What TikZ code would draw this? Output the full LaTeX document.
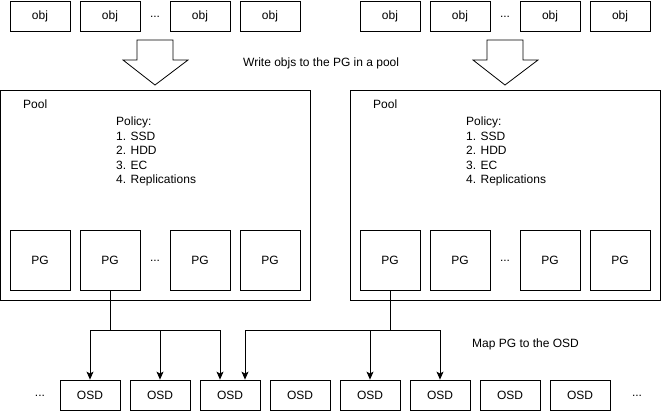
\documentclass[tikz,border=0pt]{standalone}
\usepackage{fontspec}
\setmainfont{Liberation Sans}
\usetikzlibrary{arrows.meta}
\begin{document}
\begin{tikzpicture}[x=1pt,y=-1pt,
  every node/.style={font=\fontsize{12}{14.5}\selectfont, inner sep=0pt},
  objbox/.style={draw, line width=0.8pt, minimum width=60pt, minimum height=30pt},
  pgbox/.style={draw, line width=0.8pt, minimum width=60pt, minimum height=60pt},
  poolbox/.style={draw, line width=0.8pt, minimum width=310pt, minimum height=210pt},
  osdbox/.style={draw, line width=0.8pt, minimum width=60pt, minimum height=30pt},
  wire/.style={line width=0.8pt},
  arr/.style={line width=0.8pt, -{Stealth[length=8pt,width=7pt,inset=2pt]}},
  bigarrow/.style={draw, line width=0.8pt, fill=white}
]
\useasboundingbox (0,0) rectangle (661,412);

% object rows
\node[objbox] (oL1) at (40,16) {obj};
\node[objbox] (oL2) at (110,16) {obj};
\node (oLd) at (155,17) {...};
\node[objbox] (oL3) at (200,16) {obj};
\node[objbox] (oL4) at (270,16) {obj};
\node[objbox] (oR1) at (390,16) {obj};
\node[objbox] (oR2) at (460,16) {obj};
\node (oRd) at (505,17) {...};
\node[objbox] (oR3) at (550,16) {obj};
\node[objbox] (oR4) at (620,16) {obj};

% block arrows
\draw[bigarrow] (137,40) -- (173,40) -- (173,60) -- (188,60) -- (155,85) -- (123,60) -- (137,60) -- cycle;
\draw[bigarrow] (487,40) -- (523,40) -- (523,60) -- (538,60) -- (505,85) -- (473,60) -- (487,60) -- cycle;
\node[anchor=west] (wlabel) at (243,63) {Write objs to the PG in a pool};

% pools
\node[poolbox] (poolL) at (155,195) {};
\node[poolbox] (poolR) at (505,195) {};
\node[anchor=west] (plL) at (23,104) {Pool};
\node[anchor=west] (plR) at (373,104) {Pool};
\node[anchor=north west, align=left] (polL) at (116,117) {Policy:\\1. SSD\\2. HDD\\3. EC\\4. Replications};
\node[anchor=north west, align=left] (polR) at (466,117) {Policy:\\1. SSD\\2. HDD\\3. EC\\4. Replications};

% PGs
\node[pgbox] (pL1) at (40,260) {PG};
\node[pgbox] (pL2) at (110,260) {PG};
\node (pLd) at (155,261) {...};
\node[pgbox] (pL3) at (200,260) {PG};
\node[pgbox] (pL4) at (270,260) {PG};
\node[pgbox] (pR1) at (390,260) {PG};
\node[pgbox] (pR2) at (460,260) {PG};
\node (pRd) at (505,261) {...};
\node[pgbox] (pR3) at (550,260) {PG};
\node[pgbox] (pR4) at (620,260) {PG};

% OSDs
\node (sdL) at (40,396) {...};
\node[osdbox] (s1) at (90,395) {OSD};
\node[osdbox] (s2) at (160,395) {OSD};
\node[osdbox] (s3) at (230,395) {OSD};
\node[osdbox] (s4) at (300,395) {OSD};
\node[osdbox] (s5) at (370,395) {OSD};
\node[osdbox] (s6) at (440,395) {OSD};
\node[osdbox] (s7) at (510,395) {OSD};
\node[osdbox] (s8) at (580,395) {OSD};
\node (sdR) at (637,396) {...};
\node[anchor=west] (mlabel) at (472,344) {Map PG to the OSD};

% connectors
\coordinate (jL) at (110,330);
\coordinate (jR) at (390,330);
\draw[wire] (pL2.south) -- (jL);
\draw[wire] (pR1.south) -- (jR);
\draw[arr] (jL) -| (s1.north);
\draw[arr] (jL) -| (s2.north);
\draw[arr] (jL) -| ([xshift=-10pt]s3.north);
\draw[arr] (jR) -| ([xshift=15pt]s3.north);
\draw[arr] (jR) -| (s5.north);
\draw[arr] (jR) -| (s6.north);
\end{tikzpicture}
\end{document}
